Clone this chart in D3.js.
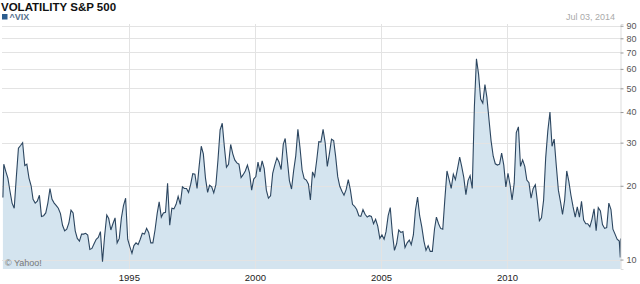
<!DOCTYPE html>
<html>
<head>
<meta charset="utf-8">
<title>VOLATILITY S&amp;P 500</title>
<script src="https://cdn.jsdelivr.net/npm/d3@7"></script>
<style>
  body { margin: 0; background: #fff; }
  text { font-family: "Liberation Sans", Arial, sans-serif; }
</style>
</head>
<body>
<svg width="640" height="284"></svg>
<script>
// ^VIX, one value per month (mid-month)
var vix1990 = [24.5, 22.8, 21.5, 19, 17, 16.2, 21.6, 28.5, 29.2, 30, 24.2, 24.5];
var vix1991 = [21.5, 20, 17.6, 17, 17.3, 18.3, 15, 15.1, 15.5, 17, 19.5, 17.6];
var vix1992 = [17, 16.6, 16.2, 15.4, 13.8, 13.1, 13.3, 14.1, 15.9, 15.5, 13.1, 12.2];
var vix1993 = [11.9, 12.7, 12.7, 12.8, 12.6, 11.0, 11.1, 11.6, 12.1, 12.3, 13.0, 9.8];
var vix1994 = [12.5, 15.2, 14.7, 13.2, 14, 14.8, 11.7, 12.2, 14.8, 16.6, 17.8, 12.1];
var vix1995 = [11.3, 10.6, 11.4, 11.7, 11.5, 12.1, 12.8, 12.7, 13.4, 12.9, 11.7, 11.7];
var vix1996 = [13.2, 15.4, 17.2, 14.9, 15.5, 15.6, 20.5, 13.8, 16.2, 16.1, 16.8, 18.1];
var vix1997 = [16.8, 19.8, 19.5, 19.5, 18.8, 20.3, 22.4, 22.3, 19.5, 24, 29, 27];
var vix1998 = [21.5, 18.8, 20.1, 19.8, 18.7, 20.2, 25.5, 33.8, 36, 29, 23.8, 24.5];
var vix1999 = [29.5, 27, 25.5, 24.8, 24.5, 21.6, 22.2, 23, 24.3, 22.6, 19.2, 21.3];
var vix2000 = [21.8, 25, 22.8, 25.3, 23.5, 19.2, 17.8, 18.2, 22.5, 24.3, 26, 25];
var vix2001 = [23.3, 29.5, 31.2, 25.5, 21, 19.4, 23, 26.5, 34, 28.7, 23.2, 21.4];
var vix2002 = [21.1, 20.3, 17.5, 22.8, 21.8, 25.5, 30.3, 30.2, 34, 30, 24, 27];
var vix2003 = [31, 30.6, 26.5, 21.8, 19.9, 19, 18.3, 19.3, 21.2, 19.3, 16.8, 16.5];
var vix2004 = [16, 15.1, 15, 16, 15.3, 14.9, 15.1, 15.0, 14, 14.6, 13.7, 12.2];
var vix2005 = [12.6, 12.1, 13, 15.1, 16.3, 12.8, 10.9, 11.6, 13.2, 12.9, 13, 11.2];
var vix2006 = [11.7, 12.0, 11.5, 12.6, 15.9, 18, 15.1, 13.6, 11.9, 10.9, 11.4, 10.8];
var vix2007 = [10.8, 13.3, 14.9, 14, 13.4, 13.3, 17.6, 23, 21.2, 19.5, 22.3, 21.2];
var vix2008 = [23.5, 26.2, 24, 21.6, 18.4, 21, 22, 19.5, 42, 66, 57, 45.2];
var vix2009 = [43.5, 51.8, 46, 37.2, 30.5, 26.4, 24.6, 24.3, 24.5, 27.2, 24.3, 19.8];
var vix2010 = [22.5, 20.1, 17.5, 20.5, 33, 34.8, 24, 25.5, 24, 21.1, 20.6, 17.8];
var vix2011 = [19.5, 20.2, 17.4, 14.4, 14.8, 17.5, 26, 33.5, 40, 29, 31, 24.3];
var vix2012 = [19.2, 17.2, 15.3, 17.5, 23, 20.8, 18.3, 16.4, 14.9, 16.4, 14.9, 17.3];
var vix2013 = [14.5, 14, 14, 13.6, 14.6, 16.1, 13.1, 16.3, 15.8, 13.9, 13.4, 13.5];
var vix2014 = [17, 16, 13.3, 12.7, 12.1, 11.9];

// first and last trading days shown
var edgeDates = ["1990-01-02", "2014-06-30", "2014-07-03"];
var edgeValues = [17.9, 10.2, 12.2];

var yTicks = [10, 20, 30, 40, 50, 60, 70, 80, 90];
var xTicks = [1995, 2000, 2005, 2010];

var years = [vix1990, vix1991, vix1992, vix1993, vix1994, vix1995, vix1996, vix1997,
             vix1998, vix1999, vix2000, vix2001, vix2002, vix2003, vix2004, vix2005,
             vix2006, vix2007, vix2008, vix2009, vix2010, vix2011, vix2012, vix2013, vix2014];

var parse = d3.timeParse("%Y-%m-%d");
var data = [{date: parse(edgeDates[0]), value: edgeValues[0]}];
years.forEach(function(arr, i) {
  arr.forEach(function(v, m) {
    data.push({date: new Date(1990 + i, m, 15), value: v});
  });
});
data.push({date: parse(edgeDates[1]), value: edgeValues[1]});
data.push({date: parse(edgeDates[2]), value: edgeValues[2]});

var svg = d3.select("svg");
var plot = {left: 2, right: 620.5, top: 24, bottom: 269};

var x = d3.scaleTime()
  .domain([new Date(1989, 11, 20), parse(edgeDates[2])])
  .range([plot.left, plot.right]);
var y = d3.scaleLog()
  .domain([9.15, 91.5])
  .range([plot.bottom, plot.top]);

// area under the line
var area = d3.area()
  .x(function(d) { return x(d.date); })
  .y0(plot.bottom)
  .y1(function(d) { return y(d.value); });
svg.append("path")
  .datum(data)
  .attr("d", area)
  .attr("fill", "#d4e4ef");

// grid
var grid = svg.append("g");
grid.selectAll("line.h")
  .data(yTicks)
  .enter().append("line")
  .attr("x1", plot.left).attr("x2", plot.right)
  .attr("y1", function(d) { return Math.round(y(d)) + 0.5; })
  .attr("y2", function(d) { return Math.round(y(d)) + 0.5; })
  .attr("stroke", "#e3e3e3");
grid.selectAll("line.v")
  .data(xTicks)
  .enter().append("line")
  .attr("x1", function(d) { return Math.round(x(new Date(d, 0, 1))) + 0.5; })
  .attr("x2", function(d) { return Math.round(x(new Date(d, 0, 1))) + 0.5; })
  .attr("y1", plot.top).attr("y2", plot.bottom)
  .attr("stroke", "#e3e3e3");

// the line
var line = d3.line()
  .x(function(d) { return x(d.date); })
  .y(function(d) { return y(d.value); });
svg.append("path")
  .datum(data)
  .attr("d", line)
  .attr("fill", "none")
  .attr("stroke", "#2c4660")
  .attr("stroke-width", 1.1);

// right axis
var yAxis = d3.axisRight(y)
  .tickValues(yTicks)
  .tickFormat(d3.format("d"))
  .tickSize(3)
  .tickPadding(3);
var ya = svg.append("g")
  .attr("transform", "translate(" + plot.right + ",0)")
  .call(yAxis);
ya.select(".domain").attr("stroke", "#dddddd");
ya.selectAll(".tick line").attr("stroke", "#999");
ya.selectAll(".tick text")
  .attr("fill", "#555")
  .style("font-size", "9px")
  .style("font-family", "'Liberation Sans', Arial, sans-serif");

// bottom axis labels
var xAxis = d3.axisBottom(x)
  .tickValues(xTicks.map(function(d) { return new Date(d, 0, 1); }))
  .tickFormat(d3.timeFormat("%Y"))
  .tickSize(0)
  .tickPadding(5);
var xa = svg.append("g")
  .attr("transform", "translate(0," + plot.bottom + ")")
  .call(xAxis);
xa.select(".domain").remove();
xa.selectAll(".tick text")
  .attr("fill", "#222")
  .style("font-size", "9.5px")
  .style("font-family", "'Liberation Sans', Arial, sans-serif");

// title and legend
svg.append("text")
  .attr("x", 1).attr("y", 10.5)
  .attr("font-size", "11.5px")
  .attr("font-weight", "bold")
  .attr("fill", "#111")
  .text("VOLATILITY S&P 500");
svg.append("rect")
  .attr("x", 2).attr("y", 14).attr("width", 5.5).attr("height", 5.5)
  .attr("fill", "#2c5d8f");
svg.append("text")
  .attr("x", 9.5).attr("y", 20)
  .attr("font-size", "9px")
  .attr("font-weight", "bold")
  .attr("fill", "#56728f")
  .text("^VIX");
svg.append("text")
  .attr("x", 615).attr("y", 20)
  .attr("text-anchor", "end")
  .attr("font-size", "9px")
  .attr("fill", "#aaa")
  .text("Jul 03, 2014");
svg.append("text")
  .attr("x", 5).attr("y", 266)
  .attr("font-size", "9px")
  .attr("fill", "#777")
  .text("© Yahoo!");
</script>
</body>
</html>
